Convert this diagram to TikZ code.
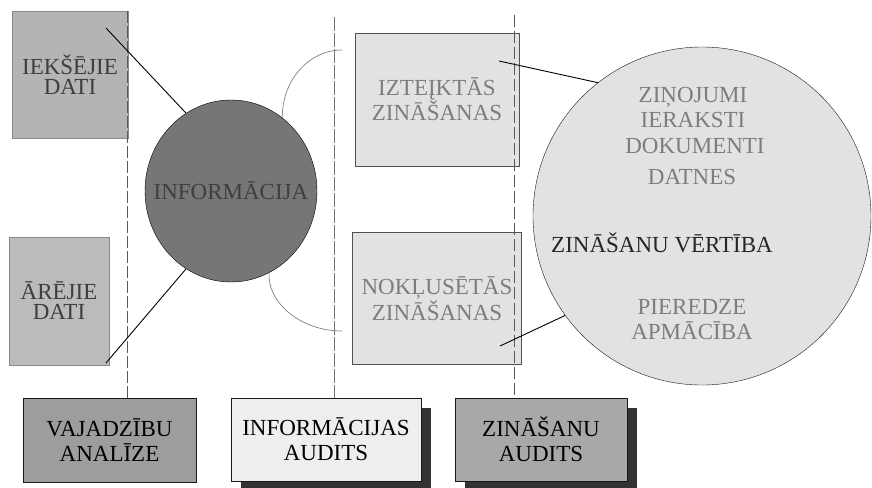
\documentclass[tikz,border=0pt]{standalone}
\usepackage{fontspec}
\setmainfont{Liberation Serif}
\usepackage{xcolor}
\usetikzlibrary{shapes,positioning,shadows,shapes.geometric}
\definecolor{datagray}{RGB}{180,180,180}
\definecolor{dataedge}{RGB}{138,138,138}
\definecolor{datatext}{RGB}{62,62,62}
\definecolor{infogray}{RGB}{118,118,118}
\definecolor{knowgray}{RGB}{226,226,226}
\definecolor{knowedge}{RGB}{80,80,80}
\definecolor{knowtext}{RGB}{125,125,125}
\definecolor{needgray}{RGB}{157,157,157}
\definecolor{auditlight}{RGB}{238,238,238}
\definecolor{auditgray}{RGB}{168,168,168}
\definecolor{shadowgray}{RGB}{51,51,51}

\tikzset{
  databox/.style={draw=dataedge, rectangle, fill=datagray, text=datatext, align=center, inner sep=0pt, font=\fontsize{23}{20}\selectfont},
  knowbox/.style={draw=knowedge, rectangle, fill=knowgray, text=knowtext, align=center, inner sep=0pt, font=\fontsize{23}{20}\selectfont},
  auditbox/.style={draw=black!90, rectangle, align=center, inner sep=0pt, minimum height=84pt, font=\fontsize{23}{25}\selectfont},
  shadowed/.style={drop shadow={shadow xshift=10pt, shadow yshift=-10pt, fill=shadowgray, opacity=1}},
  valuetext/.style={text=knowtext, anchor=base, inner sep=0pt, font=\fontsize{23}{25}\selectfont},
  divider/.style={draw=black!65, line width=0.8pt, dash pattern=on 12pt off 3pt},
  link/.style={draw=black, line width=0.9pt},
  bendline/.style={draw=black!50, line width=0.7pt}
}

\begin{document}
\begin{tikzpicture}[x=1pt, y=-1pt]
  \useasboundingbox (0,0) rectangle (872,487);

  % dati un informacija
  \node[databox, minimum width=116pt, minimum height=127pt] (iekseji) at (70,74.5) {IEKŠĒJIE\\DATI};
  \node[databox, fill=datagray!90, minimum width=100pt, minimum height=128pt] (areji) at (59,301) {ĀRĒJIE\\DATI};
  \node[draw, ellipse, fill=infogray, minimum width=172pt, minimum height=182pt, inner sep=0pt] (info) at (231,191) {};
  \node[text=datatext, inner sep=0pt, font=\fontsize{23}{20}\selectfont] (infolabel) at (info.center) {INFORMĀCIJA};

  % zinasanas
  \node[knowbox, minimum width=164pt, minimum height=133pt] (izteiktas) at (437,99.5) {IZTEĮKTĀS\\ZINĀŠANAS};
  \node[knowbox, minimum width=169pt, minimum height=132pt, below=66pt of izteiktas] (noklusetas) {NOKĻUSĒTĀS\\ZINĀŠANAS};

  \node[draw, circle, fill=knowgray, draw=black!90, minimum size=338pt, inner sep=0pt] (value) at (702,216) {};
  \node[valuetext] (zinojumi) at (693,102.5) {ZIŅOJUMI};
  \node[valuetext] (ieraksti) at (693,127.5) {IERAKSTI};
  \node[valuetext] (dokumenti) at (695,153.5) {DOKUMENTI};
  \node[valuetext] (datnes) at (692,184.5) {DATNES};
  \node[valuetext, text=black!85] (vertiba) at (662,252.5) {ZINĀŠANU VĒRTĪBA};
  \node[valuetext] (pieredze) at (692,314.5) {PIEREDZE};
  \node[valuetext] (apmaciba) at (692,339.5) {APMĀCĪBA};

  % auditi
  \node[auditbox, fill=needgray, minimum width=173pt] (needs) at (109.5,440) {VAJADZĪBU\\ANALĪZE};
  \node[auditbox, fill=auditlight, shadowed, minimum width=190pt, minimum height=83pt] (infoaudit) at (326,439.5) {INFORMĀCIJAS\\AUDITS};
  \node[auditbox, fill=auditgray, shadowed, minimum width=172pt, minimum height=83pt] (knowaudit) at (541,439.5) {ZINĀŠANU\\AUDITS};

  \coordinate (cut1) at (127,11);
  \coordinate (cut2) at (334,17);
  \coordinate (cut3) at (514,15);
  \draw[divider] (cut1) -- (cut1 |- needs.north);
  \draw[divider, draw=black!55, line width=0.6pt, dash pattern=on 14pt off 2pt] (cut2) -- (cut2 |- infoaudit.north);
  \draw[divider, dash pattern=on 12pt off 4pt] (cut3) -- (cut3 |- knowaudit.north);

  \coordinate (ieksejiIn) at (106,28);
  \coordinate (arejiIn) at (106,363);
  \coordinate (izteiktasIn) at (499,61);
  \coordinate (noklusetasIn) at (500,346);
  \draw[link] (ieksejiIn) -- (info.120);
  \draw[link] (info.240) -- (arejiIn);
  \draw[link] (izteiktasIn) -- (value.128);
  \draw[link] (noklusetasIn) -- (value.216);

  \coordinate (arcTop) at (342,50);
  \coordinate (arcLow) at (342,331);
  \draw[bendline] (info.55) .. controls (282,80) and (309,50) .. (arcTop);
  \draw[bendline] (info.295) .. controls (267,302) and (300,331) .. (arcLow);
\end{tikzpicture}
\end{document}
